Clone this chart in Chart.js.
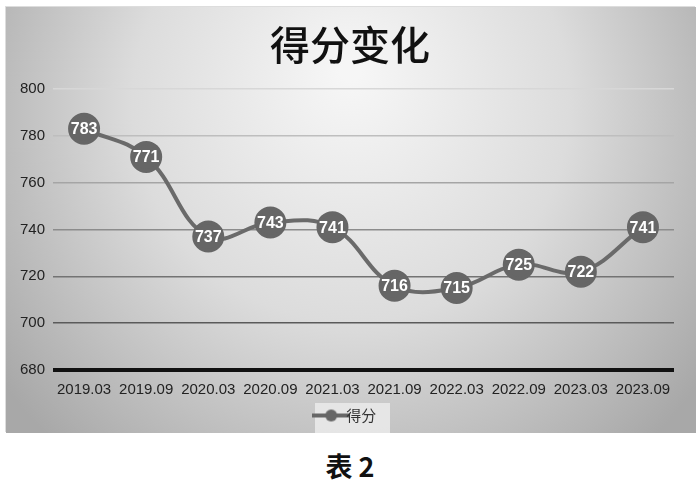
<!DOCTYPE html>
<html><head><meta charset="utf-8">
<script src="https://cdn.jsdelivr.net/npm/chart.js@4"></script>
<style>
html,body{margin:0;padding:0;background:#fff;width:700px;height:487px;overflow:hidden}
#box{position:absolute;left:5px;top:6px;width:690px;height:426px;border:1px solid #ddd;box-sizing:border-box}
#cap{position:absolute;left:0;top:446px;width:700px;text-align:center;font:bold 27px "Noto Sans CJK SC";color:#111}
</style></head><body>
<div id="box"><canvas id="c" width="690" height="426"></canvas></div>
<div id="cap">表 2</div>
<script>
const categories=["2019.03","2019.09","2020.03","2020.09","2021.03","2021.09","2022.03","2022.09","2023.03","2023.09"];
const scores=[783,771,737,743,741,716,715,725,722,741];
const seriesName="得分";
const titleText="得分变化";

const bg={id:'bg',beforeDraw(ch){const c=ch.ctx,w=ch.width,h=ch.height;
 const g=c.createRadialGradient(w*0.5,h*0.15,10,w*0.5,h*0.3,w*0.62);
 g.addColorStop(0,'#f6f6f6');g.addColorStop(0.5,'#dcdcdc');g.addColorStop(1,'#a8a8a8');
 c.save();c.fillStyle=g;c.fillRect(0,0,w,h);
 const L=ch.legend;if(L){c.fillStyle='rgba(235,235,235,0.85)';c.fillRect(L.left+L.width/2-35,L.top+1,75,h-L.top-1);}
 c.restore();}};
const shift={id:'shift',afterLayout(ch){[ch.titleBlock,ch.legend].forEach(b=>{if(b){b.left+=7;b.right+=7;}});}};
const labelsPlug={id:'lbl',afterDatasetsDraw(ch){const c=ch.ctx,m=ch.getDatasetMeta(0);
 c.save();c.fillStyle='#fff';c.font='bold 16px "Liberation Sans"';c.textAlign='center';c.textBaseline='middle';
 m.data.forEach((p,i)=>c.fillText(String(ch.data.datasets[0].data[i]),p.x,p.y+1));c.restore();}};

const ic=document.createElement('canvas');ic.width=38;ic.height=14;
{const x=ic.getContext('2d');x.strokeStyle='#666';x.lineWidth=4;x.beginPath();x.moveTo(0,7);x.lineTo(38,7);x.stroke();
 x.fillStyle='#666';x.beginPath();x.arc(19,7,6,0,Math.PI*2);x.fill();}

new Chart(document.getElementById('c'),{type:'line',
 data:{labels:categories,datasets:[{label:seriesName,data:scores,borderColor:'#6a6a6a',backgroundColor:'#666',
  borderWidth:4,pointRadius:14,pointHoverRadius:14,pointBackgroundColor:'#666',pointBorderColor:'#666',tension:0.4}]},
 options:{responsive:false,animation:false,
  layout:{padding:{left:6,right:22,top:0,bottom:0}},
  plugins:{tooltip:{enabled:false},
   title:{display:true,text:titleText,color:'#111',font:{family:'"Noto Sans CJK SC"',size:40,weight:'500'},padding:{top:14,bottom:20}},
   legend:{position:'bottom',labels:{usePointStyle:true,pointStyle:ic,color:'#333',font:{family:'"Noto Sans CJK SC"',size:15},padding:6}}},
  scales:{x:{offset:true,grid:{display:false},border:{display:false},
    ticks:{color:'#222',font:{family:'"Liberation Sans"',size:15},maxRotation:0,padding:3}},
   y:{min:680,max:800,ticks:{stepSize:20,color:'#222',font:{family:'"Liberation Sans"',size:15},padding:8},
    border:{display:false},
    grid:{drawTicks:false,color:(c)=>{const v=c.tick.value;if(v===680)return'#111';const t=(800-v)/120;const k=Math.round(215-150*t);return `rgb(${k},${k},${k})`;},
     lineWidth:(c)=>c.tick.value===680?4:1.5}}}},
 plugins:[bg,shift,labelsPlug]});
</script></body></html>
